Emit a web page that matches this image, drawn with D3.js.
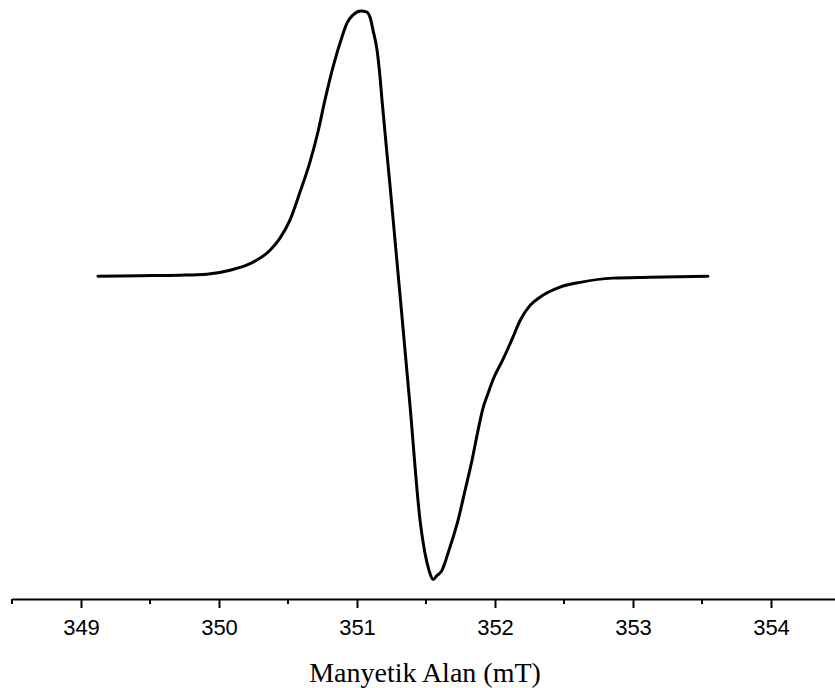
<!DOCTYPE html>
<html>
<head>
<meta charset="utf-8">
<script src="https://cdn.jsdelivr.net/npm/d3@7"></script>
<style>
  html, body { margin: 0; padding: 0; background: #fff; }
  svg { display: block; }
</style>
</head>
<body>
<svg id="chart" width="835" height="688"></svg>
<script>
// EPR spectrum: magnetic field (mT) vs first-derivative signal (a.u.)
const field = [
  349.123, 349.428, 349.717, 349.913, 350.080, 350.246, 350.370, 350.442,
  350.514, 350.587, 350.659, 350.717, 350.768, 350.826, 350.891, 350.928,
  350.971, 351.029, 351.072, 351.094, 351.116, 351.145, 351.167, 351.181,
  351.239, 351.312, 351.384, 351.457, 351.493, 351.522, 351.551, 351.580,
  351.616, 351.638, 351.659, 351.732, 351.783, 351.833, 351.877, 351.913,
  351.949, 351.986, 352.058, 352.130, 352.181, 352.254, 352.326, 352.471,
  352.616, 352.855, 353.123, 353.543
];
const signal = [
  -2, 0, 2, 6, 21, 51, 96, 142,
  210, 316, 429, 543, 664, 788, 902, 955,
  985, 1000, 996, 977, 928, 853, 750, 664,
  342, -74, -490, -924, -1049, -1113, -1147, -1132,
  -1113, -1083, -1049, -924, -811, -698, -584, -500,
  -445, -392, -316, -232, -170, -112, -81, -43,
  -25, -9, -6, -2
];
const majorTicks = [349, 350, 351, 352, 353, 354];
const minorTicks = [348.5, 349.5, 350.5, 351.5, 352.5, 353.5, 354.5];
const xTitle = "Manyetik Alan (mT)";

const svg = d3.select("#chart");

const x = d3.scaleLinear().domain([348.5, 354.5]).range([12, 840]);
const y = d3.scaleLinear().domain([-1147, 1000]).range([579.4, 11]);

const points = field.map((f, i) => [f, signal[i]]);

// spectrum trace
svg.append("path")
  .datum(points)
  .attr("fill", "none")
  .attr("stroke", "#000")
  .attr("stroke-width", 3)
  .attr("stroke-linejoin", "round")
  .attr("stroke-linecap", "round")
  .attr("d", d3.line()
    .x(d => x(d[0]))
    .y(d => y(d[1]))
    .curve(d3.curveMonotoneX));

// bottom axis: labelled major ticks plus short half-unit ticks
const axisY = 599;
const gx = svg.append("g").attr("transform", `translate(0,${axisY})`);

gx.call(d3.axisBottom(x)
    .tickValues(majorTicks)
    .tickFormat(d3.format("d"))
    .tickSizeInner(9)
    .tickSizeOuter(0)
    .tickPadding(11));

gx.select(".domain").attr("stroke", "#000").attr("stroke-width", 2);
gx.selectAll(".tick line").attr("stroke", "#000").attr("stroke-width", 2);
gx.selectAll(".tick text")
  .attr("fill", "#000")
  .attr("font-family", "Liberation Sans, Arial, sans-serif")
  .attr("font-size", 22);

gx.selectAll(".minor")
  .data(minorTicks)
  .enter().append("line")
  .attr("class", "minor")
  .attr("x1", d => x(d)).attr("x2", d => x(d))
  .attr("y1", 0).attr("y2", 5)
  .attr("stroke", "#000")
  .attr("stroke-width", 2);

// axis title
svg.append("text")
  .attr("x", 425)
  .attr("y", 682)
  .attr("text-anchor", "middle")
  .attr("font-family", "Liberation Serif, Times New Roman, serif")
  .attr("font-size", 28)
  .attr("fill", "#000")
  .text(xTitle);
</script>
</body>
</html>
